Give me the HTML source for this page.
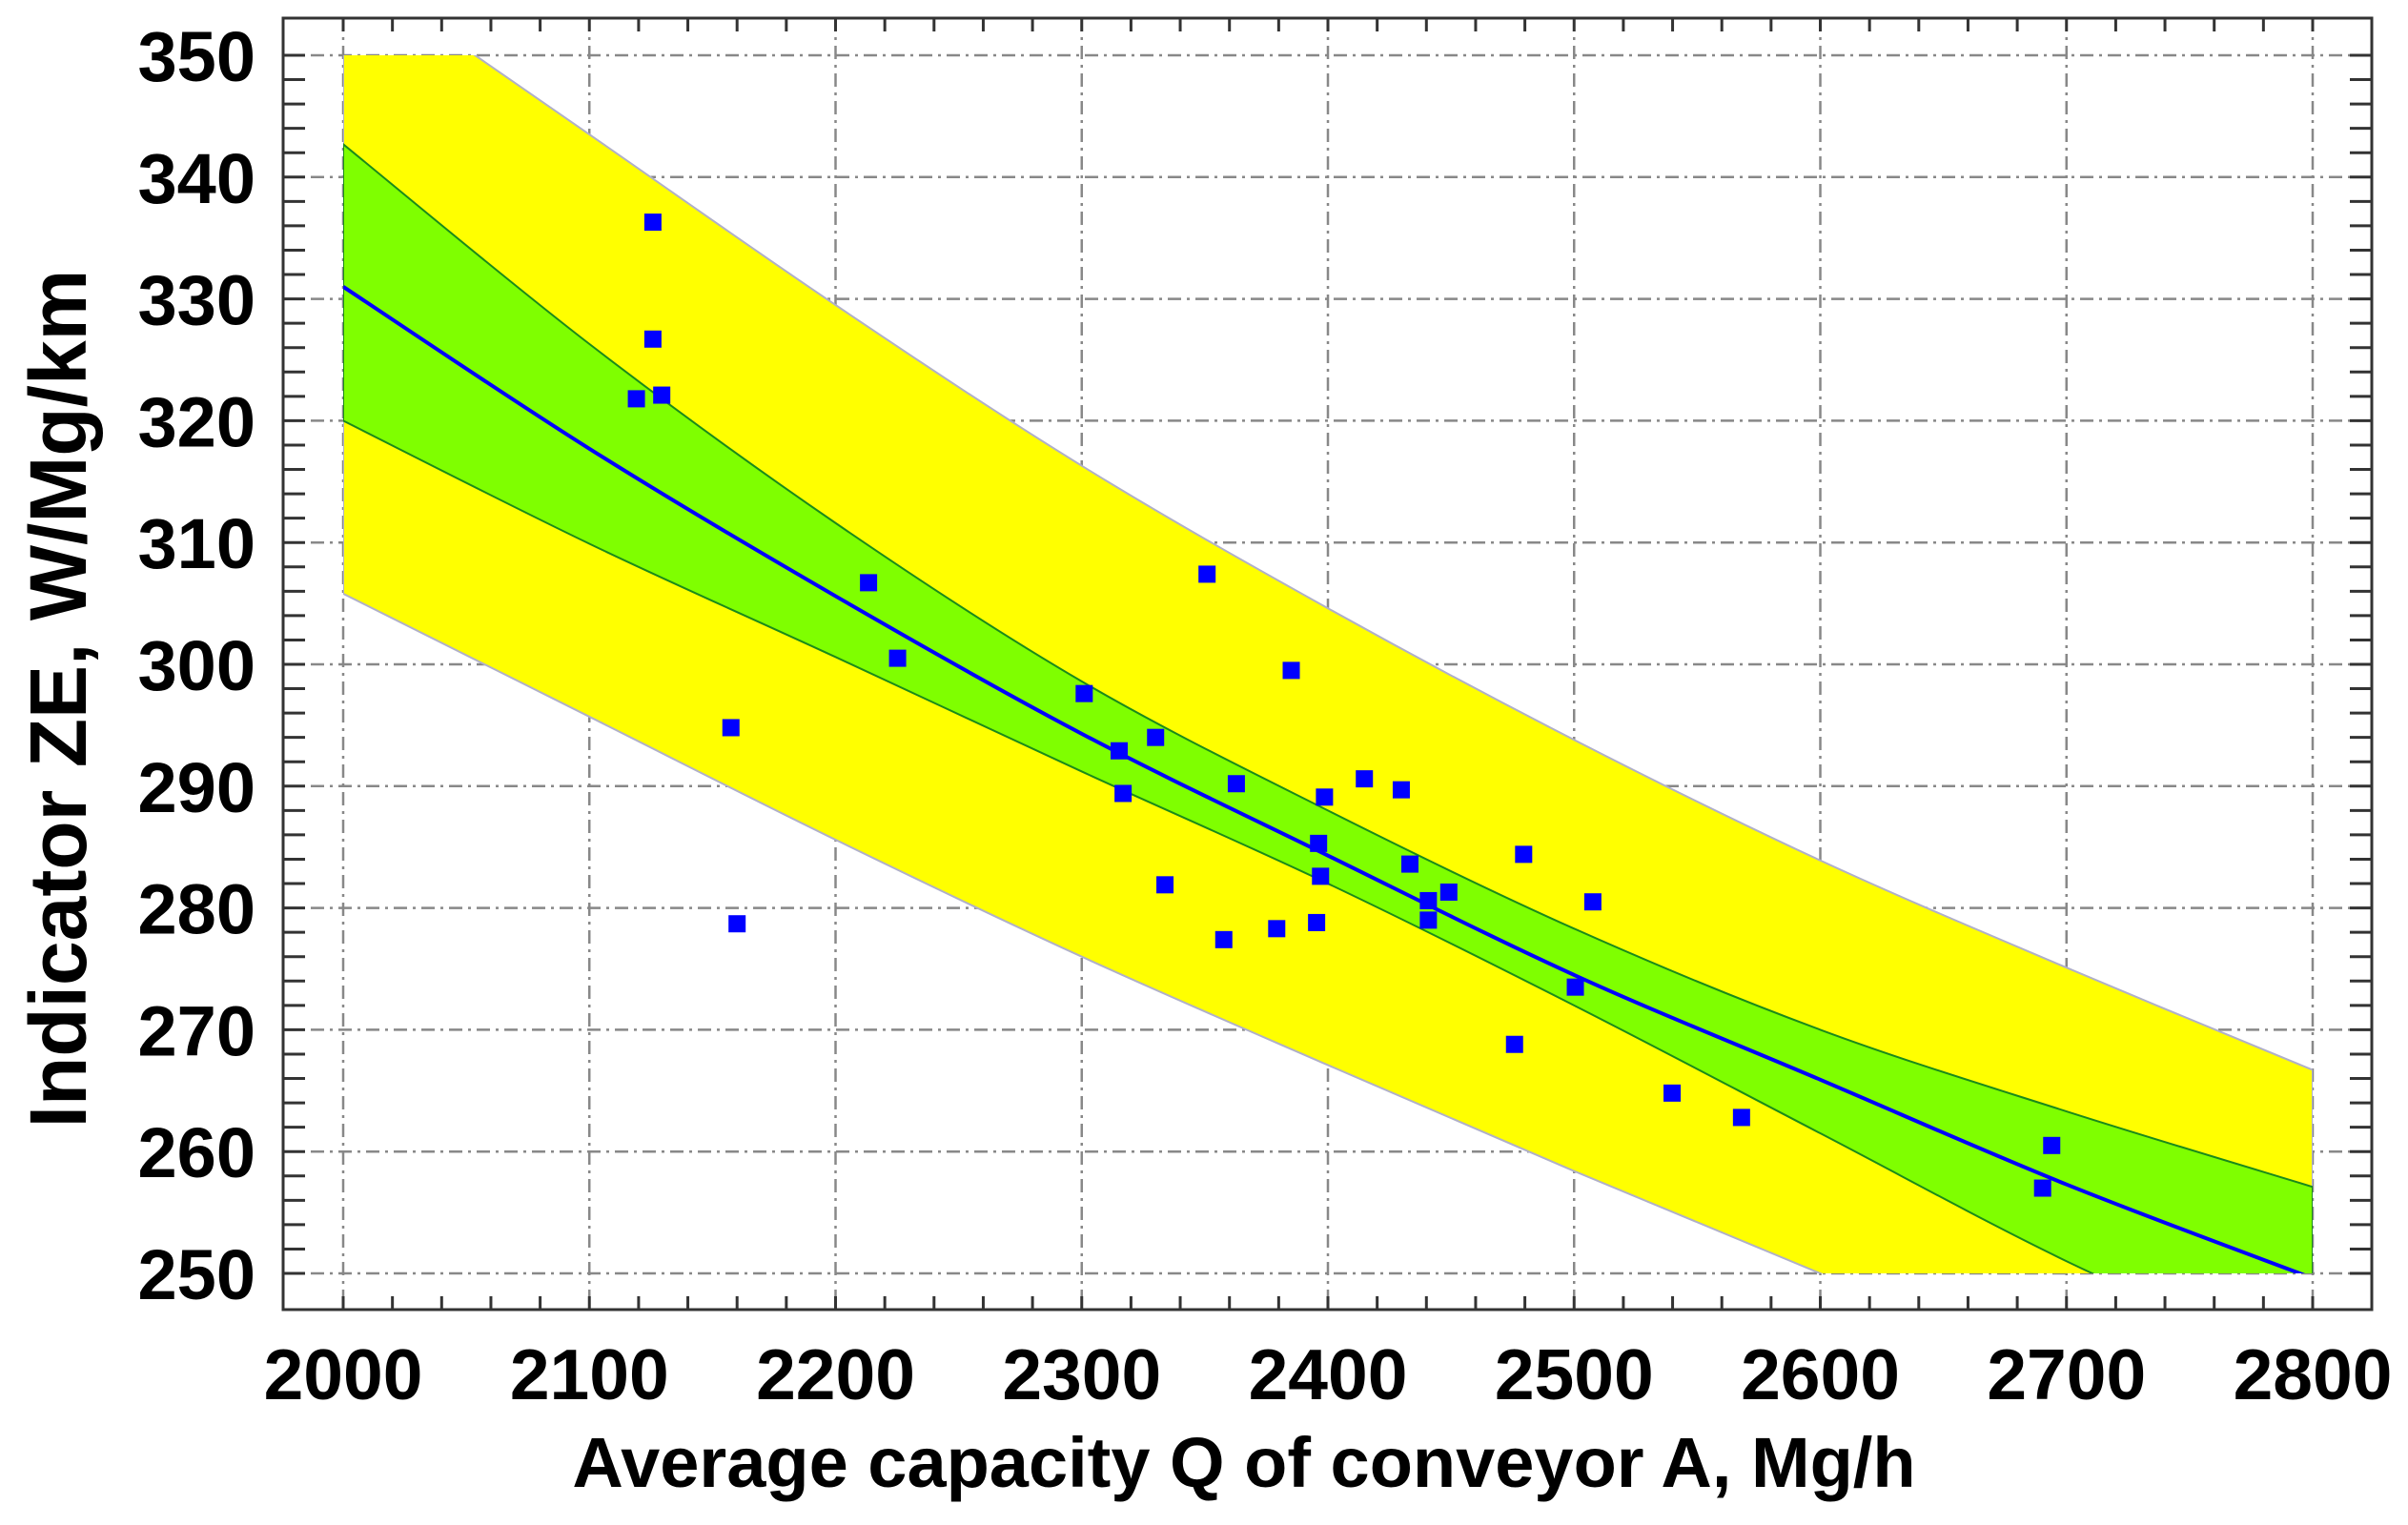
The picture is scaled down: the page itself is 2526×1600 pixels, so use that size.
<!DOCTYPE html>
<html><head><meta charset="utf-8"><style>
html,body{margin:0;padding:0;background:#fff;}
svg{display:block;font-family:"Liberation Sans",sans-serif;}
</style></head><body>
<svg id="chart" width="2526" height="1600" viewBox="0 0 2526 1600" xmlns="http://www.w3.org/2000/svg">
<defs><clipPath id="plotclip"><rect x="360" y="58" width="2066" height="1278"/></clipPath></defs>
<g id="grid"></g>
<g id="bands" clip-path="url(#plotclip)"></g>
<g id="pts"></g>
<rect x="297" y="19" width="2191" height="1355" fill="none" stroke="#333" stroke-width="3"/>
<g id="ticks"></g>
<text x="1305" y="1560" font-size="74" font-weight="bold" text-anchor="middle">Average capacity Q of conveyor A,  Mg/h</text>
<text x="0" y="0" font-size="84" font-weight="bold" text-anchor="middle" transform="translate(90,733) rotate(-90)">Indicator ZE, W/Mg/km</text>
</svg>
<script>
const bandX = [2000,2100,2200,2300,2400,2500,2600,2700,2800];
const predUpper = [357.5,343.5,329.5,316.3,304.6,293.8,283.9,275.1,266.7];
const confUpper = [342.7,326.3,311.6,298.6,288.0,278.3,270.0,263.3,257.1];
const fitLine = [331.0,317.7,305.6,294.3,284.3,274.5,265.9,257.3,249.6];
const confLower = [320.0,309.9,300.6,291.2,282.0,272.0,261.5,251.0,242.0];
const predLower = [305.8,295.7,285.6,276.0,267.1,258.4,250.0,241.8,233.6];
const ptX = [2125.8,2125.8,2119.1,2129.4,2213.4,2225.2,2301,2157.5,2160,2350.9,2385.1,2330,2315.2,2316.8,2362.8,2398.6,2414.8,2429.8,2396.2,2433.3,2397,2333.8,2449.1,2440.8,2507.6,2440.8,2395.4,2379.2,2357.7,2479.5,2500.5,2475.8,2539.8,2568,2690.3,2694];
const ptY = [336.3,326.7,321.8,322.1,306.7,300.5,297.6,294.8,278.7,307.4,299.5,294.0,292.9,289.4,290.2,289.1,290.6,289.7,285.3,283.6,282.6,281.9,281.3,280.6,280.5,279.0,278.8,278.3,277.4,284.4,273.5,268.8,264.8,262.8,257.0,260.5];
const xTicks = [2000,2100,2200,2300,2400,2500,2600,2700,2800];
const yTicks = [250,260,270,280,290,300,310,320,330,340,350];

const NS="http://www.w3.org/2000/svg";
const X0=360,X1=2426,Y0=1336,Y1=58;
function sx(v){return X0+(v-2000)*(X1-X0)/800;}
function sy(v){return Y0-(v-250)*(Y0-Y1)/100;}
function mk(tag,attrs,parent){const e=document.createElementNS(NS,tag);for(const k in attrs)e.setAttribute(k,attrs[k]);parent.appendChild(e);return e;}
function curvePts(xs,ys){const p=[];for(let i=0;i<xs.length;i++)p.push([sx(xs[i]),sy(ys[i])]);return p;}
function spline(p,move){let d=move?`M${p[0][0]},${p[0][1]}`:`L${p[0][0]},${p[0][1]}`;
 for(let i=0;i<p.length-1;i++){const a=p[Math.max(i-1,0)],b=p[i],c=p[i+1],e=p[Math.min(i+2,p.length-1)];
  d+=` C${b[0]+(c[0]-a[0])/6},${b[1]+(c[1]-a[1])/6} ${c[0]-(e[0]-b[0])/6},${c[1]-(e[1]-b[1])/6} ${c[0]},${c[1]}`;}
 return d;}
const grid=document.getElementById('grid'),bands=document.getElementById('bands'),pts=document.getElementById('pts'),ticks=document.getElementById('ticks');
xTicks.forEach(v=>{const l=mk('line',{x1:sx(v),x2:sx(v),y1:19,y2:1374,stroke:'#888','stroke-width':2.5,'stroke-dasharray':'14,6,3,6'},grid);

});
yTicks.forEach(v=>{const l=mk('line',{x1:297,x2:2488,y1:sy(v),y2:sy(v),stroke:'#888','stroke-width':2.5,'stroke-dasharray':'14,6,3,6'},grid);

});
function band(up,lo,fill,stroke,name){const pu=curvePts(bandX,up),pl=curvePts(bandX,lo).reverse();
 const d=spline(pu,true)+' '+spline(pl,false)+' Z';
 const e=mk('path',{d:d,fill:fill,stroke:stroke,'stroke-width':2},bands);
 
 }
band(predUpper,predLower,'#ffff00','#b0b0c8','prediction-band');
band(confUpper,confLower,'#7fff00','#1a8a1a','confidence-band');
const fl=mk('path',{d:spline(curvePts(bandX,fitLine),true),fill:'none',stroke:'#0000ff','stroke-width':4},bands);


ptX.forEach((v,i)=>{const r=mk('rect',{x:sx(v)-9,y:sy(ptY[i])-9,width:18,height:18,fill:'#0000ff'},pts);

});
for(let v=2000;v<=2800;v+=20){const x=sx(v);
 mk('line',{x1:x,x2:x,y1:1374,y2:1360,stroke:'#333','stroke-width':3},ticks);
 mk('line',{x1:x,x2:x,y1:19,y2:33,stroke:'#333','stroke-width':3},ticks);}
for(let v=250;v<=350;v+=2){const y=sy(v);
 mk('line',{x1:297,x2:320,y1:y,y2:y,stroke:'#333','stroke-width':3},ticks);
 mk('line',{x1:2488,x2:2465,y1:y,y2:y,stroke:'#333','stroke-width':3},ticks);}
xTicks.forEach(v=>{const t=mk('text',{x:sx(v),y:1468,'font-size':75,'font-weight':'bold','text-anchor':'middle'},ticks);t.textContent=v;

});
yTicks.forEach(v=>{const t=mk('text',{x:268,y:sy(v)+27,'font-size':74,'font-weight':'bold','text-anchor':'end'},ticks);t.textContent=v;

});
</script>
</body></html>
